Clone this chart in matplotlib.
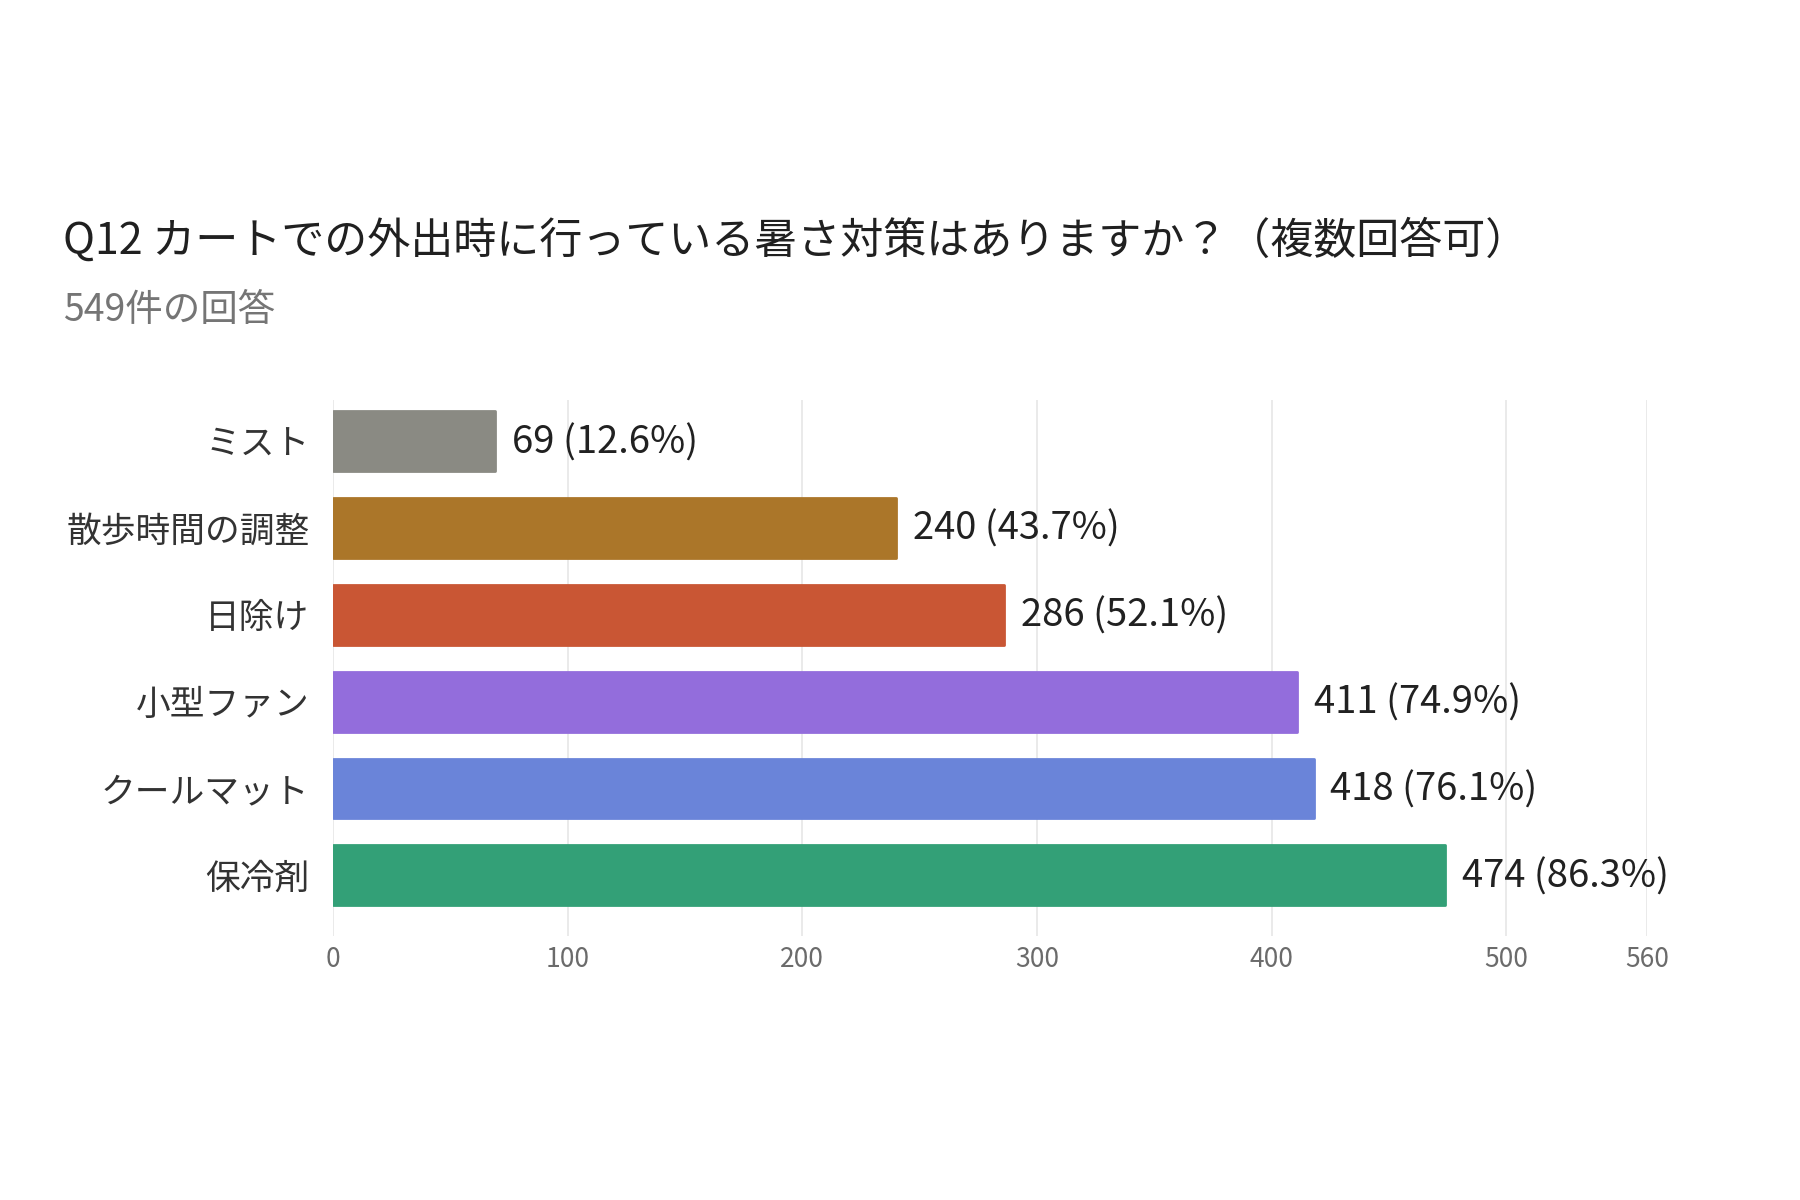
import matplotlib
matplotlib.use("Agg")
from matplotlib import pyplot as plt

plt.rcParams['font.family'] = ['Noto Sans CJK JP', 'DejaVu Sans']

# data (top to bottom)
categories = ['ミスト', '散歩時間の調整', '日除け', '小型ファン', 'クールマット', '保冷剤']
counts = [69, 240, 286, 411, 418, 474]
percents = [12.6, 43.7, 52.1, 74.9, 76.1, 86.3]
colors = ['#8a8a83', '#ab7629', '#c95634', '#936ddc', '#6a84d9', '#33a077']
ticks = [0, 100, 200, 300, 400, 500, 560]

title = 'Q12 カートでの外出時に行っている暑さ対策はありますか？（複数回答可）'
subtitle = '549件の回答'

fig = plt.figure(figsize=(18, 12), dpi=100)
fig.patch.set_facecolor('white')

ax = fig.add_axes([0.185, 0.220, 0.730, 0.447])
ypos = list(range(len(categories)))
bars = ax.barh(ypos, counts, height=0.69, color=colors, edgecolor=colors,
               linewidth=2, zorder=3)
for b in bars:
    b.set_joinstyle('round')

for y, c, p in zip(ypos, counts, percents):
    ax.annotate(f'{c} ({p}%)', xy=(c, y), xytext=(12, -1), textcoords='offset points',
                va='center', ha='left', fontsize=27.5, color='#212121')

ax.set_xlim(0, 560)
ax.set_ylim(5.70, -0.48)
ax.set_xticks(ticks)
ax.set_xticklabels([str(t) for t in ticks], fontsize=19, color='#6b6b6b')
ax.tick_params(axis='x', length=0, pad=7)
ax.set_yticks(ypos)
ax.set_yticklabels(categories, fontsize=25, color='#333333')
ax.tick_params(axis='y', length=0, pad=17)
ax.grid(axis='x', color='#e6e6e6', linewidth=1.2, zorder=0)
for s in ax.spines.values():
    s.set_visible(False)

fig.text(0.035, 0.799, title, fontsize=31, color='#202020', va='center', ha='left')
fig.text(0.035, 0.741, subtitle, fontsize=27, color='#757575', va='center', ha='left')

fig.savefig('out.png', dpi=100, facecolor='white')
